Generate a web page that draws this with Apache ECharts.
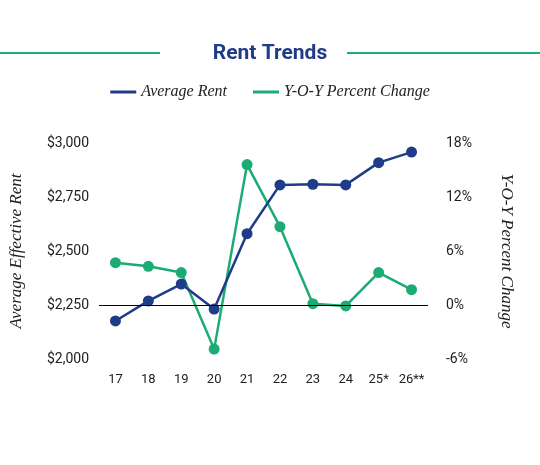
<!DOCTYPE html>
<html>
<head>
<meta charset="utf-8">
<script src="https://cdn.jsdelivr.net/npm/echarts@6/dist/echarts.min.js"></script>
<style>
  html, body { margin: 0; padding: 0; background: #fff; }
  #chart { width: 540px; height: 465px; }
</style>
</head>
<body>
<div id="chart"></div>
<script>
// ---- data ----
var years = ['17', '18', '19', '20', '21', '22', '23', '24', '25*', '26**'];
var avgRent = [2176, 2269, 2347, 2231, 2580, 2806, 2809, 2806, 2909, 2958];
var yoyChange = [4.7, 4.3, 3.6, -4.9, 15.6, 8.7, 0.15, -0.1, 3.6, 1.7];

var BLUE = '#1f3c88';
var GREEN = '#1dab74';
var serif = '"Liberation Serif", "DejaVu Serif", serif';

var chart = echarts.init(document.getElementById('chart'));

chart.setOption({
    animation: false,
    title: {
        text: 'Rent Trends',
        left: 'center',
        top: 38,
        textStyle: { color: BLUE, fontSize: 21, fontWeight: 'bold', fontFamily: 'Roboto, sans-serif' }
    },
    // decorative rules beside the title
    graphic: [
        { type: 'line', shape: { x1: 0, y1: 53, x2: 160, y2: 53 }, style: { stroke: GREEN, lineWidth: 2 } },
        { type: 'line', shape: { x1: 347, y1: 53, x2: 540, y2: 53 }, style: { stroke: GREEN, lineWidth: 2 } }
    ],
    legend: {
        top: 79,
        left: 'center',
        itemGap: 26,
        itemWidth: 26,
        icon: 'rect',
        itemHeight: 3,
        textStyle: { fontFamily: serif, fontStyle: 'italic', fontSize: 16, color: '#222' },
        data: ['Average Rent', 'Y-O-Y Percent Change']
    },
    grid: { left: 90, right: 112, top: 143, bottom: 106 },
    xAxis: {
        type: 'category',
        data: years,
        axisLine: { show: false },
        axisTick: { show: false },
        axisLabel: { interval: 0, color: '#222', fontSize: 13, margin: 14, fontFamily: 'Roboto, sans-serif' }
    },
    yAxis: [
        {
            type: 'value', min: 2000, max: 3000, interval: 250,
            name: 'Average Effective Rent', nameLocation: 'middle', nameGap: 74, nameRotate: 90,
            nameTextStyle: { fontFamily: serif, fontStyle: 'italic', fontSize: 17, color: '#222' },
            splitLine: { show: false },
            axisLine: { show: false }, axisTick: { show: false },
            axisLabel: {
                color: '#222', fontSize: 14, margin: 10, fontFamily: 'Roboto, sans-serif',
                formatter: function (v) { return '$' + v.toLocaleString('en-US'); }
            }
        },
        {
            type: 'value', min: -6, max: 18, interval: 6,
            name: 'Y-O-Y Percent Change', nameLocation: 'middle', nameGap: 70, nameRotate: -90,
            nameTextStyle: { fontFamily: serif, fontStyle: 'italic', fontSize: 17, color: '#222' },
            splitLine: { show: false },
            axisLine: { show: false }, axisTick: { show: false },
            axisLabel: { color: '#222', fontSize: 14, margin: 18, fontFamily: 'Roboto, sans-serif', formatter: '{value}%' }
        }
    ],
    series: [
        {
            name: 'Average Rent', type: 'line', yAxisIndex: 0, data: avgRent,
            symbol: 'circle', symbolSize: 11,
            lineStyle: { color: BLUE, width: 2.5 }, itemStyle: { color: BLUE },
            z: 3
        },
        {
            name: 'Y-O-Y Percent Change', type: 'line', yAxisIndex: 1, data: yoyChange,
            symbol: 'circle', symbolSize: 11,
            lineStyle: { color: GREEN, width: 2.5 }, itemStyle: { color: GREEN },
            z: 2,
            markLine: {
                silent: true, symbol: 'none', label: { show: false },
                lineStyle: { color: '#000', width: 1, type: 'solid' },
                data: [{ yAxis: 0 }]
            }
        }
    ]
});
</script>
</body>
</html>
